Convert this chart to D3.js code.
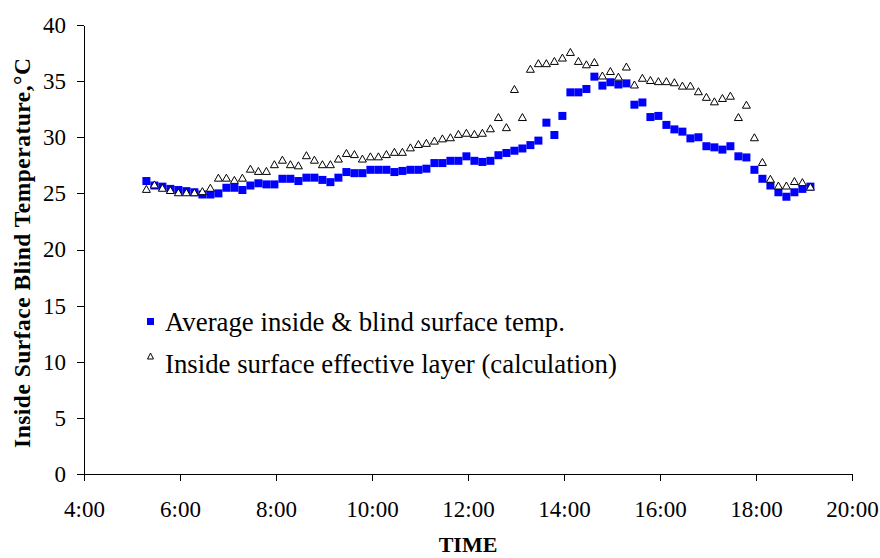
<!DOCTYPE html>
<html>
<head>
<meta charset="utf-8">
<script src="https://cdn.jsdelivr.net/npm/d3@7"></script>
<style>
  html, body { margin: 0; padding: 0; background: #fff; }
  svg { display: block; }
  text { font-family: "Liberation Serif", "Times New Roman", serif; fill: #000; }
</style>
</head>
<body>
<svg id="chart" width="880" height="558"></svg>
<script>
// Logged every 10 minutes
const times = [
  "5:18","5:28","5:38","5:48","5:58",
  "6:08","6:18","6:28","6:38","6:48","6:58",
  "7:08","7:18","7:28","7:38","7:48","7:58",
  "8:08","8:18","8:28","8:38","8:48","8:58",
  "9:08","9:18","9:28","9:38","9:48","9:58",
  "10:08","10:18","10:28","10:38","10:48","10:58",
  "11:08","11:18","11:28","11:38","11:48","11:58",
  "12:08","12:18","12:28","12:38","12:48","12:58",
  "13:08","13:18","13:28","13:38","13:48","13:58",
  "14:08","14:18","14:28","14:38","14:48","14:58",
  "15:08","15:18","15:28","15:38","15:48","15:58",
  "16:08","16:18","16:28","16:38","16:48","16:58",
  "17:08","17:18","17:28","17:38","17:48","17:58",
  "18:08","18:18","18:28","18:38","18:48","18:58",
  "19:08"
];

// Average inside & blind surface temperature (°C)
const avgSurface = [
  26.1, 25.7, 25.6, 25.4, 25.3, 25.2, 25.1, 24.9, 24.9, 25.0,
  25.5, 25.5, 25.3, 25.7, 25.9, 25.8, 25.8, 26.3, 26.3, 26.1,
  26.4, 26.4, 26.2, 26.0, 26.4, 26.9, 26.8, 26.8, 27.1, 27.1,
  27.1, 26.9, 27.0, 27.1, 27.1, 27.2, 27.7, 27.7, 27.9, 27.9,
  28.3, 27.9, 27.8, 27.9, 28.4, 28.6, 28.8, 29.0, 29.3, 29.7,
  31.3, 30.2, 31.9, 34.0, 34.0, 34.3, 35.4, 34.6, 34.9, 34.7,
  34.8, 32.9, 33.1, 31.8, 31.9, 31.1, 30.7, 30.5, 29.9, 30.0,
  29.2, 29.1, 28.9, 29.2, 28.3, 28.2, 27.1, 26.3, 25.7, 25.1,
  24.7, 25.1, 25.4, 25.6
];

// Inside surface effective layer, calculated (°C)
const effectiveLayer = [
  25.4, 25.8, 25.5, 25.3, 25.1, 25.1, 25.1, 25.2, 25.5, 26.4,
  26.4, 26.2, 26.4, 27.2, 27.0, 27.0, 27.6, 28.0, 27.6, 27.5,
  28.4, 28.0, 27.6, 27.6, 28.1, 28.6, 28.5, 28.1, 28.3, 28.3,
  28.5, 28.7, 28.7, 29.1, 29.4, 29.5, 29.7, 29.9, 30.0, 30.3,
  30.4, 30.3, 30.4, 30.8, 31.8, 30.9, 34.3, 31.8, 36.1, 36.6,
  36.6, 36.8, 37.1, 37.6, 36.8, 36.5, 36.7, 35.5, 35.9, 35.4,
  36.3, 34.7, 35.3, 35.1, 35.0, 35.0, 34.9, 34.6, 34.6, 34.1,
  33.6, 33.2, 33.5, 33.7, 31.8, 32.9, 30.0, 27.8, 26.3, 25.7,
  25.7, 26.1, 26.0, 25.6
];

const xTickLabels = ["4:00", "6:00", "8:00", "10:00", "12:00", "14:00", "16:00", "18:00", "20:00"];
const yTickValues = [0, 5, 10, 15, 20, 25, 30, 35, 40];
const seriesNames = ["Average inside & blind surface temp.", "Inside surface effective layer (calculation)"];
const yTitle = "Inside Surface Blind Temperature,°C";
const xTitle = "TIME";

const toHours = s => { const [h, m] = s.split(":").map(Number); return h + m / 60; };

const svg = d3.select("#chart");
const x = d3.scaleLinear().domain([4, 20]).range([84, 852]);
const y = d3.scaleLinear().domain([0, 40]).range([474, 25]);

// Axes
const xAxis = d3.axisBottom(x)
  .tickValues(xTickLabels.map(toHours))
  .tickFormat((d, i) => xTickLabels[i])
  .tickSize(7).tickSizeOuter(0);
const gx = svg.append("g").attr("transform", `translate(0,${y(0)})`).call(xAxis);
gx.selectAll("text").attr("y", 43).attr("dy", null).style("font-size", "23px");

const yAxis = d3.axisLeft(y)
  .tickValues(yTickValues)
  .tickSize(7).tickSizeOuter(0).tickPadding(11);
const gy = svg.append("g").attr("transform", `translate(${x(4)},0)`).call(yAxis);
gy.selectAll("text").style("font-size", "23px");

svg.selectAll(".domain, .tick line")
  .attr("stroke", "#000").attr("stroke-width", 1)
  .attr("shape-rendering", "crispEdges");
svg.selectAll(".tick text").attr("fill", "#000").attr("font-family", null);

// Average surface temperature: blue squares
svg.append("g").selectAll("rect")
  .data(avgSurface)
  .join("rect")
  .attr("x", (d, i) => x(toHours(times[i])) - 4)
  .attr("y", d => y(d) - 4)
  .attr("width", 8).attr("height", 8)
  .attr("fill", "#0000ff");

// Effective layer: open triangles
const tri = (w, h) => `M0,${-h / 2}L${w / 2},${h / 2}L${-w / 2},${h / 2}Z`;
svg.append("g").selectAll("path")
  .data(effectiveLayer)
  .join("path")
  .attr("d", tri(8, 7))
  .attr("transform", (d, i) => `translate(${x(toHours(times[i]))},${y(d)})`)
  .attr("fill", "#fff")
  .attr("stroke", "#000")
  .attr("stroke-width", 1);

// Legend
const legend = svg.append("g");
legend.append("rect").attr("x", 147).attr("y", 318).attr("width", 7).attr("height", 7).attr("fill", "#0000ff");
legend.append("path").attr("d", tri(6, 6)).attr("transform", "translate(150.5,356)")
  .attr("fill", "#fff").attr("stroke", "#000").attr("stroke-width", 1);
legend.selectAll("text").data(seriesNames).join("text")
  .attr("x", 165).attr("y", (d, i) => 331 + i * 42)
  .style("font-size", "26.8px")
  .text(d => d);

// Axis titles
svg.append("text")
  .attr("transform", "translate(30,253) rotate(-90)")
  .attr("text-anchor", "middle")
  .attr("textLength", 390).attr("lengthAdjust", "spacing")
  .style("font-size", "23.5px").style("font-weight", "bold")
  .text(yTitle);
svg.append("text")
  .attr("x", x(12)).attr("y", 552)
  .attr("text-anchor", "middle")
  .style("font-size", "22px").style("font-weight", "bold")
  .text(xTitle);
</script>
</body>
</html>
